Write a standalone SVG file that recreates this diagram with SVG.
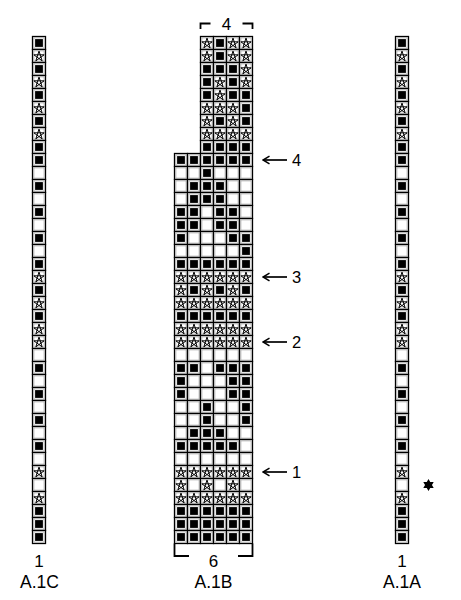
<svg xmlns="http://www.w3.org/2000/svg" xmlns:xlink="http://www.w3.org/1999/xlink" width="461" height="600" viewBox="0 0 461 600">
<style>
.c{fill:#fff;stroke:#000;stroke-width:1.3}
.in{fill:none;stroke:#9a9a9a;stroke-width:0.7}
.st{fill:none;stroke:#000;stroke-width:1;stroke-linejoin:miter}
.t{font-family:"Liberation Sans",Arial,sans-serif;fill:#000}
.lbl{font-size:17.5px;text-anchor:middle}
.num{font-size:17px;text-anchor:middle}
.an{font-size:16.5px}
.br{fill:none;stroke:#000;stroke-width:1.8}
.ar{fill:none;stroke:#000;stroke-width:1.7}
</style>
<defs>
<g id="e"><rect width="13" height="13" class="c"/><rect x="1.4" y="1.4" width="10.2" height="10.2" class="in"/></g>
<g id="b"><use href="#e"/><rect x="2.6" y="2.6" width="7.8" height="7.8" fill="#000"/></g>
<g id="s"><use href="#e"/><path d="M6.5,1.6 L9.67,11.36 L1.37,5.33 L11.63,5.33 L3.33,11.36 Z" class="st"/></g>
<marker id="ah" markerWidth="10" markerHeight="10" refX="8.5" refY="5" orient="auto" markerUnits="userSpaceOnUse"><path d="M2,1.2 L8.5,5 L2,8.8" fill="none" stroke="#000" stroke-width="1.5"/></marker>
</defs>

<g id="A1C">
<use href="#b" x="32.5" y="36.5"/><use href="#s" x="32.5" y="49.5"/><use href="#b" x="32.5" y="62.5"/><use href="#s" x="32.5" y="75.5"/><use href="#b" x="32.5" y="88.5"/><use href="#s" x="32.5" y="101.5"/><use href="#b" x="32.5" y="114.5"/><use href="#s" x="32.5" y="127.5"/><use href="#b" x="32.5" y="140.5"/><use href="#b" x="32.5" y="153.5"/><use href="#e" x="32.5" y="166.5"/><use href="#b" x="32.5" y="179.5"/><use href="#e" x="32.5" y="192.5"/><use href="#b" x="32.5" y="205.5"/><use href="#e" x="32.5" y="218.5"/><use href="#b" x="32.5" y="231.5"/><use href="#e" x="32.5" y="244.5"/><use href="#b" x="32.5" y="257.5"/><use href="#s" x="32.5" y="270.5"/><use href="#b" x="32.5" y="283.5"/><use href="#s" x="32.5" y="296.5"/><use href="#b" x="32.5" y="309.5"/><use href="#s" x="32.5" y="322.5"/><use href="#s" x="32.5" y="335.5"/><use href="#e" x="32.5" y="348.5"/><use href="#b" x="32.5" y="361.5"/><use href="#e" x="32.5" y="374.5"/><use href="#b" x="32.5" y="387.5"/><use href="#e" x="32.5" y="400.5"/><use href="#b" x="32.5" y="413.5"/><use href="#e" x="32.5" y="426.5"/><use href="#b" x="32.5" y="439.5"/><use href="#e" x="32.5" y="452.5"/><use href="#s" x="32.5" y="465.5"/><use href="#e" x="32.5" y="478.5"/><use href="#s" x="32.5" y="491.5"/><use href="#b" x="32.5" y="504.5"/><use href="#b" x="32.5" y="517.5"/><use href="#b" x="32.5" y="530.5"/>
<text class="t num" x="39" y="567">1</text>
<text class="t lbl" x="39.5" y="588">A.1C</text>
</g>

<g id="A1A">
<use href="#b" x="395.5" y="36.5"/><use href="#s" x="395.5" y="49.5"/><use href="#b" x="395.5" y="62.5"/><use href="#s" x="395.5" y="75.5"/><use href="#b" x="395.5" y="88.5"/><use href="#s" x="395.5" y="101.5"/><use href="#b" x="395.5" y="114.5"/><use href="#s" x="395.5" y="127.5"/><use href="#b" x="395.5" y="140.5"/><use href="#b" x="395.5" y="153.5"/><use href="#e" x="395.5" y="166.5"/><use href="#b" x="395.5" y="179.5"/><use href="#e" x="395.5" y="192.5"/><use href="#b" x="395.5" y="205.5"/><use href="#e" x="395.5" y="218.5"/><use href="#b" x="395.5" y="231.5"/><use href="#e" x="395.5" y="244.5"/><use href="#b" x="395.5" y="257.5"/><use href="#s" x="395.5" y="270.5"/><use href="#b" x="395.5" y="283.5"/><use href="#s" x="395.5" y="296.5"/><use href="#b" x="395.5" y="309.5"/><use href="#s" x="395.5" y="322.5"/><use href="#s" x="395.5" y="335.5"/><use href="#e" x="395.5" y="348.5"/><use href="#b" x="395.5" y="361.5"/><use href="#e" x="395.5" y="374.5"/><use href="#b" x="395.5" y="387.5"/><use href="#e" x="395.5" y="400.5"/><use href="#b" x="395.5" y="413.5"/><use href="#e" x="395.5" y="426.5"/><use href="#b" x="395.5" y="439.5"/><use href="#e" x="395.5" y="452.5"/><use href="#s" x="395.5" y="465.5"/><use href="#e" x="395.5" y="478.5"/><use href="#s" x="395.5" y="491.5"/><use href="#b" x="395.5" y="504.5"/><use href="#b" x="395.5" y="517.5"/><use href="#b" x="395.5" y="530.5"/>
<text class="t num" x="402" y="567">1</text>
<text class="t lbl" x="402" y="588">A.1A</text>
<polygon points="428.5,479 430.23,482 433.7,482 431.96,485 433.7,488 430.23,488 428.5,491 426.77,488 423.3,488 425.04,485 423.3,482 426.77,482" fill="#000"/>
</g>

<g id="A1B">
<g transform="translate(0,36.5)"><use href="#s" x="200.5"/><use href="#b" x="213.5"/><use href="#s" x="226.5"/><use href="#s" x="239.5"/></g>
<g transform="translate(0,49.5)"><use href="#s" x="200.5"/><use href="#b" x="213.5"/><use href="#s" x="226.5"/><use href="#s" x="239.5"/></g>
<g transform="translate(0,62.5)"><use href="#b" x="200.5"/><use href="#b" x="213.5"/><use href="#b" x="226.5"/><use href="#s" x="239.5"/></g>
<g transform="translate(0,75.5)"><use href="#b" x="200.5"/><use href="#s" x="213.5"/><use href="#b" x="226.5"/><use href="#s" x="239.5"/></g>
<g transform="translate(0,88.5)"><use href="#b" x="200.5"/><use href="#s" x="213.5"/><use href="#b" x="226.5"/><use href="#b" x="239.5"/></g>
<g transform="translate(0,101.5)"><use href="#s" x="200.5"/><use href="#s" x="213.5"/><use href="#s" x="226.5"/><use href="#b" x="239.5"/></g>
<g transform="translate(0,114.5)"><use href="#s" x="200.5"/><use href="#b" x="213.5"/><use href="#s" x="226.5"/><use href="#b" x="239.5"/></g>
<g transform="translate(0,127.5)"><use href="#s" x="200.5"/><use href="#s" x="213.5"/><use href="#s" x="226.5"/><use href="#s" x="239.5"/></g>
<g transform="translate(0,140.5)"><use href="#b" x="200.5"/><use href="#b" x="213.5"/><use href="#b" x="226.5"/><use href="#b" x="239.5"/></g>
<g transform="translate(0,153.5)"><use href="#b" x="174.5"/><use href="#b" x="187.5"/><use href="#b" x="200.5"/><use href="#b" x="213.5"/><use href="#b" x="226.5"/><use href="#b" x="239.5"/></g>
<g transform="translate(0,166.5)"><use href="#e" x="174.5"/><use href="#e" x="187.5"/><use href="#b" x="200.5"/><use href="#e" x="213.5"/><use href="#e" x="226.5"/><use href="#e" x="239.5"/></g>
<g transform="translate(0,179.5)"><use href="#e" x="174.5"/><use href="#b" x="187.5"/><use href="#b" x="200.5"/><use href="#b" x="213.5"/><use href="#e" x="226.5"/><use href="#e" x="239.5"/></g>
<g transform="translate(0,192.5)"><use href="#e" x="174.5"/><use href="#b" x="187.5"/><use href="#b" x="200.5"/><use href="#b" x="213.5"/><use href="#e" x="226.5"/><use href="#e" x="239.5"/></g>
<g transform="translate(0,205.5)"><use href="#b" x="174.5"/><use href="#b" x="187.5"/><use href="#e" x="200.5"/><use href="#b" x="213.5"/><use href="#b" x="226.5"/><use href="#e" x="239.5"/></g>
<g transform="translate(0,218.5)"><use href="#b" x="174.5"/><use href="#b" x="187.5"/><use href="#e" x="200.5"/><use href="#b" x="213.5"/><use href="#b" x="226.5"/><use href="#e" x="239.5"/></g>
<g transform="translate(0,231.5)"><use href="#b" x="174.5"/><use href="#e" x="187.5"/><use href="#e" x="200.5"/><use href="#e" x="213.5"/><use href="#b" x="226.5"/><use href="#b" x="239.5"/></g>
<g transform="translate(0,244.5)"><use href="#e" x="174.5"/><use href="#e" x="187.5"/><use href="#e" x="200.5"/><use href="#e" x="213.5"/><use href="#e" x="226.5"/><use href="#b" x="239.5"/></g>
<g transform="translate(0,257.5)"><use href="#b" x="174.5"/><use href="#b" x="187.5"/><use href="#b" x="200.5"/><use href="#b" x="213.5"/><use href="#b" x="226.5"/><use href="#b" x="239.5"/></g>
<g transform="translate(0,270.5)"><use href="#s" x="174.5"/><use href="#s" x="187.5"/><use href="#s" x="200.5"/><use href="#s" x="213.5"/><use href="#s" x="226.5"/><use href="#s" x="239.5"/></g>
<g transform="translate(0,283.5)"><use href="#s" x="174.5"/><use href="#b" x="187.5"/><use href="#s" x="200.5"/><use href="#b" x="213.5"/><use href="#s" x="226.5"/><use href="#b" x="239.5"/></g>
<g transform="translate(0,296.5)"><use href="#s" x="174.5"/><use href="#s" x="187.5"/><use href="#s" x="200.5"/><use href="#s" x="213.5"/><use href="#s" x="226.5"/><use href="#s" x="239.5"/></g>
<g transform="translate(0,309.5)"><use href="#b" x="174.5"/><use href="#b" x="187.5"/><use href="#b" x="200.5"/><use href="#b" x="213.5"/><use href="#b" x="226.5"/><use href="#b" x="239.5"/></g>
<g transform="translate(0,322.5)"><use href="#s" x="174.5"/><use href="#s" x="187.5"/><use href="#s" x="200.5"/><use href="#s" x="213.5"/><use href="#s" x="226.5"/><use href="#s" x="239.5"/></g>
<g transform="translate(0,335.5)"><use href="#s" x="174.5"/><use href="#s" x="187.5"/><use href="#s" x="200.5"/><use href="#s" x="213.5"/><use href="#s" x="226.5"/><use href="#s" x="239.5"/></g>
<g transform="translate(0,348.5)"><use href="#e" x="174.5"/><use href="#e" x="187.5"/><use href="#e" x="200.5"/><use href="#e" x="213.5"/><use href="#e" x="226.5"/><use href="#e" x="239.5"/></g>
<g transform="translate(0,361.5)"><use href="#b" x="174.5"/><use href="#b" x="187.5"/><use href="#e" x="200.5"/><use href="#b" x="213.5"/><use href="#b" x="226.5"/><use href="#b" x="239.5"/></g>
<g transform="translate(0,374.5)"><use href="#b" x="174.5"/><use href="#e" x="187.5"/><use href="#e" x="200.5"/><use href="#e" x="213.5"/><use href="#b" x="226.5"/><use href="#b" x="239.5"/></g>
<g transform="translate(0,387.5)"><use href="#b" x="174.5"/><use href="#e" x="187.5"/><use href="#e" x="200.5"/><use href="#e" x="213.5"/><use href="#b" x="226.5"/><use href="#b" x="239.5"/></g>
<g transform="translate(0,400.5)"><use href="#e" x="174.5"/><use href="#e" x="187.5"/><use href="#b" x="200.5"/><use href="#e" x="213.5"/><use href="#e" x="226.5"/><use href="#b" x="239.5"/></g>
<g transform="translate(0,413.5)"><use href="#e" x="174.5"/><use href="#e" x="187.5"/><use href="#b" x="200.5"/><use href="#e" x="213.5"/><use href="#e" x="226.5"/><use href="#b" x="239.5"/></g>
<g transform="translate(0,426.5)"><use href="#e" x="174.5"/><use href="#b" x="187.5"/><use href="#b" x="200.5"/><use href="#b" x="213.5"/><use href="#e" x="226.5"/><use href="#e" x="239.5"/></g>
<g transform="translate(0,439.5)"><use href="#b" x="174.5"/><use href="#b" x="187.5"/><use href="#b" x="200.5"/><use href="#b" x="213.5"/><use href="#b" x="226.5"/><use href="#e" x="239.5"/></g>
<g transform="translate(0,452.5)"><use href="#e" x="174.5"/><use href="#e" x="187.5"/><use href="#e" x="200.5"/><use href="#e" x="213.5"/><use href="#e" x="226.5"/><use href="#e" x="239.5"/></g>
<g transform="translate(0,465.5)"><use href="#s" x="174.5"/><use href="#s" x="187.5"/><use href="#s" x="200.5"/><use href="#s" x="213.5"/><use href="#s" x="226.5"/><use href="#s" x="239.5"/></g>
<g transform="translate(0,478.5)"><use href="#s" x="174.5"/><use href="#e" x="187.5"/><use href="#s" x="200.5"/><use href="#e" x="213.5"/><use href="#s" x="226.5"/><use href="#e" x="239.5"/></g>
<g transform="translate(0,491.5)"><use href="#s" x="174.5"/><use href="#s" x="187.5"/><use href="#s" x="200.5"/><use href="#s" x="213.5"/><use href="#s" x="226.5"/><use href="#s" x="239.5"/></g>
<g transform="translate(0,504.5)"><use href="#b" x="174.5"/><use href="#b" x="187.5"/><use href="#b" x="200.5"/><use href="#b" x="213.5"/><use href="#b" x="226.5"/><use href="#b" x="239.5"/></g>
<g transform="translate(0,517.5)"><use href="#b" x="174.5"/><use href="#b" x="187.5"/><use href="#b" x="200.5"/><use href="#b" x="213.5"/><use href="#b" x="226.5"/><use href="#b" x="239.5"/></g>
<g transform="translate(0,530.5)"><use href="#b" x="174.5"/><use href="#b" x="187.5"/><use href="#b" x="200.5"/><use href="#b" x="213.5"/><use href="#b" x="226.5"/><use href="#b" x="239.5"/></g>
<path class="br" d="M200.5,29 V23.5 H210.5 M242.5,23.5 H252.5 V29"/>
<text class="t num" x="226.5" y="30">4</text>
<path class="br" d="M174.5,543.5 V556 H189 M238,556 H252.5 V543.5"/>
<text class="t num" x="213.5" y="567">6</text>
<text class="t lbl" x="213.5" y="588">A.1B</text>
</g>

<g id="connectors">
<line class="ar" x1="287" y1="160" x2="263" y2="160" marker-end="url(#ah)"/>
<line class="ar" x1="287" y1="277" x2="263" y2="277" marker-end="url(#ah)"/>
<line class="ar" x1="287" y1="342" x2="263" y2="342" marker-end="url(#ah)"/>
<line class="ar" x1="287" y1="472" x2="263" y2="472" marker-end="url(#ah)"/>
</g>
<g id="rowlabels">
<text class="t an" x="292" y="165.5">4</text>
<text class="t an" x="292" y="282.5">3</text>
<text class="t an" x="292" y="347.5">2</text>
<text class="t an" x="292" y="477.5">1</text>
</g>
</svg>
